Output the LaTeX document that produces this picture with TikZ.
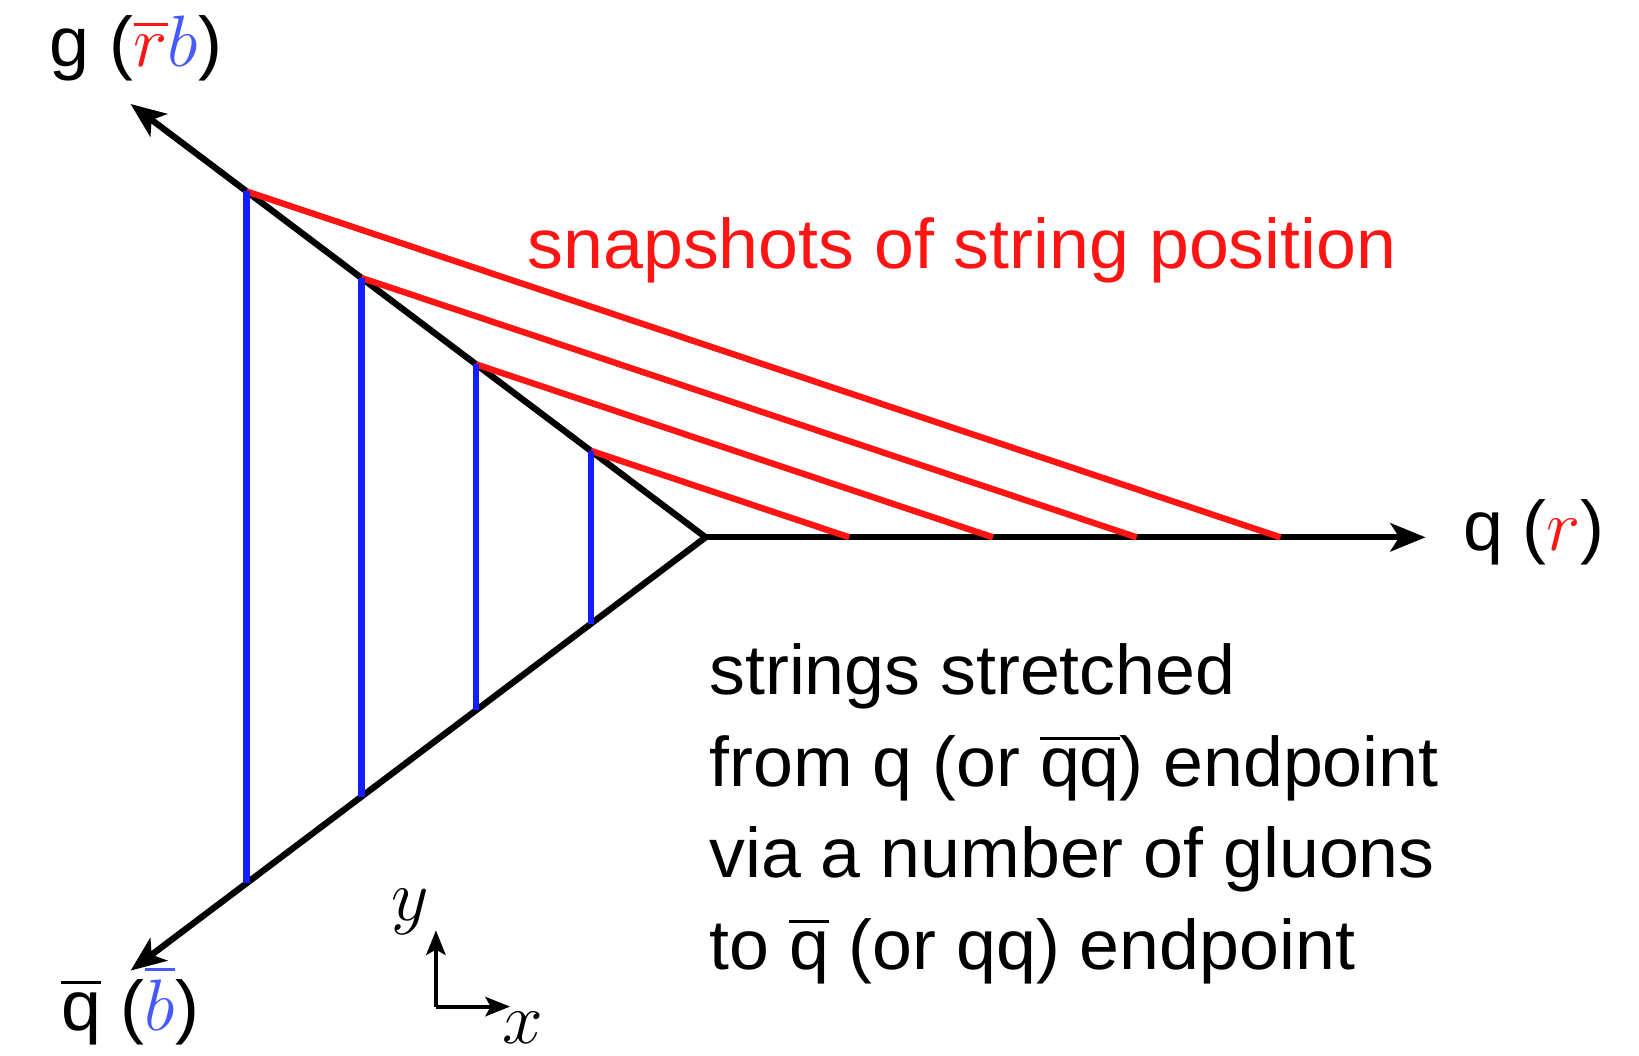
\documentclass[tikz,border=0pt]{standalone}
\usepackage{amssymb}
\usepackage{fontspec}
\setsansfont{Liberation Sans}[FakeStretch=1.02]
\usetikzlibrary{arrows.meta}
\definecolor{strred}{RGB}{255,20,20}
\definecolor{strblue}{RGB}{20,30,250}
\definecolor{lblblue}{RGB}{70,90,255}

\begin{document}
\begin{tikzpicture}[
  every node/.style={font=\sffamily\fontsize{20}{26}\selectfont, inner sep=0pt},
  parton/.style={line width=1.8pt, -{Stealth[length=10pt,width=8pt,inset=2.5pt]}},
  snap/.style={line width=1.8pt, strred},
  glue/.style={line width=1.9pt, strblue},
  axis/.style={line width=1.1pt, -{Stealth[length=7pt,width=5.5pt,inset=1.5pt]}}]
\useasboundingbox (0,0) rectangle (16.39,10.55);

\coordinate (v) at (7.056,5.177);
\coordinate (g) at ([shift={(143:7.2)}]v);
\coordinate (qb) at ([shift={(217:7.2)}]v);
\coordinate (q) at ([shift={(0:7.2)}]v);
\foreach \k in {1,...,4}
{
\coordinate (g\k) at ([shift={(143:{1.437*\k})}]v);
\coordinate (a\k) at ([shift={(217:{1.437*\k})}]v);
\coordinate (q\k) at ([shift={(0:{1.437*\k})}]v);
}

\foreach \p/\q in {v/g, v/q, v/qb}
{\draw[parton] (\p) -- (\q);}
\foreach \k in {1,...,4}
{\draw[snap] (g\k) -- (q\k);
 \draw[glue] (g\k) -- (a\k);}

\node[anchor=base] (glbl) at (1.36,9.89) {g ($\textcolor{strred}{\overline{r}}\textcolor{lblblue}{b}$)};
\node[anchor=base] (qlbl) at (15.34,5.05) {q ($\textcolor{strred}{r}$)};
\node[anchor=base] (qblbl) at (1.30,0.25) {$\overline{\mbox{q}}$ ($\textcolor{lblblue}{\overline{b}}$)};

\node[strred, anchor=base] (snaptxt) at (9.62,7.864) {snapshots of string position};
\node[anchor=base west, align=left] (desc) at (7.087,0.86) {strings stretched\\from q (or $\overline{\mbox{qq}}$) endpoint\\via a number of gluons\\to $\overline{\mbox{q}}$ (or qq) endpoint};

\coordinate (o) at (4.359,0.484);
\coordinate (ox) at (5.10,0.484);
\coordinate (oy) at (4.359,1.247);
\draw[axis] (o) -- (ox);
\draw[axis] (o) -- (oy);
\node (xlbl) at (5.227,0.27) {$x$};
\node (ylbl) at (4.098,1.435) {$y$};

\end{tikzpicture}
\end{document}
